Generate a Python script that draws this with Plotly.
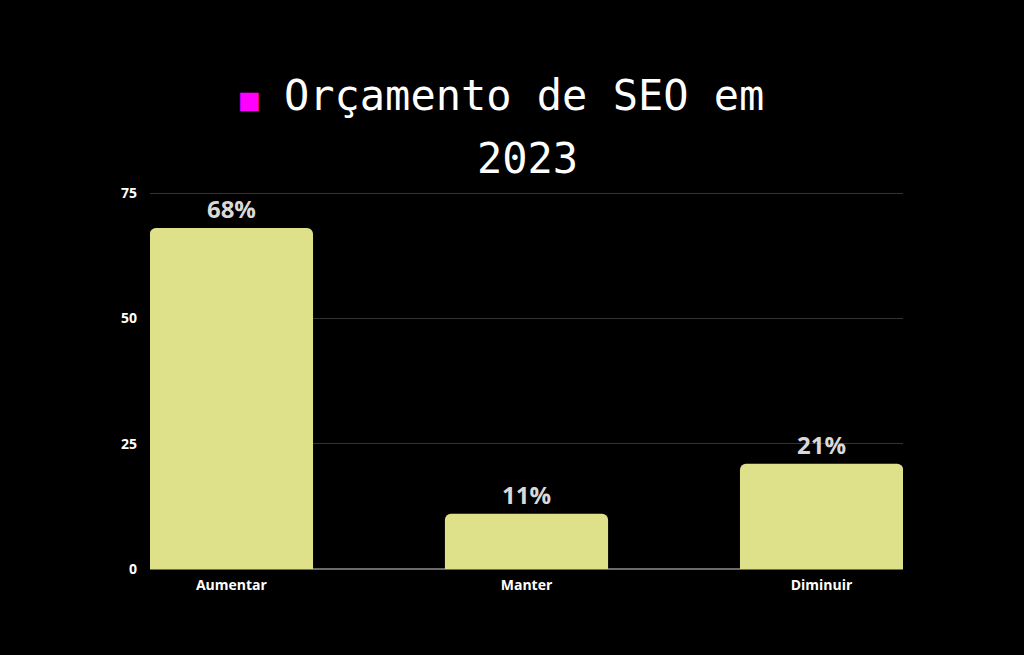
import plotly.graph_objects as go

categories = ["Aumentar", "Manter", "Diminuir"]
values = [68, 11, 21]
y_ticks = [0, 25, 50, 75]

bar_color = "#dee08a"

fig = go.Figure()
fig.add_trace(go.Bar(
    x=categories,
    y=values,
    width=0.553,
    marker=dict(color=bar_color, line=dict(width=0)),
    texttemplate="%{y}%",
    textposition="outside",
    textfont=dict(family="Open Sans", size=24, color="#d9d9d9", weight="bold"),
    cliponaxis=False,
    showlegend=False,
))

fig.update_layout(
    width=1024,
    height=655,
    paper_bgcolor="black",
    plot_bgcolor="black",
    margin=dict(l=150, r=121, t=188, b=86),
    barcornerradius=6,
    xaxis=dict(
        range=[-0.276, 2.276],
        showgrid=False,
        zeroline=False,
        showline=False,
        ticks="",
        ticklabelstandoff=6,
        tickfont=dict(family="Open Sans", size=14, color="white", weight="bold"),
    ),
    yaxis=dict(
        range=[0, 76],
        tickvals=y_ticks,
        showgrid=True,
        gridcolor="#333333",
        gridwidth=1,
        zeroline=True,
        zerolinecolor="#6a6a6a",
        zerolinewidth=1.5,
        ticks="",
        ticklabelstandoff=12,
        tickfont=dict(family="Open Sans", size=14, color="white", weight="bold"),
    ),
    annotations=[
        dict(
            text="<span style='color:#ff00ff;font-size:31px'>■</span> Orçamento de SEO em",
            xref="paper", yref="paper", x=0.4675, y=1.244,
            xanchor="center", yanchor="middle", showarrow=False,
            font=dict(family="DejaVu Sans Mono", size=42, color="white"),
        ),
        dict(
            text="2023",
            xref="paper", yref="paper", x=0.5007, y=1.078,
            xanchor="center", yanchor="middle", showarrow=False,
            font=dict(family="DejaVu Sans Mono", size=42, color="white"),
        ),
    ],
)

fig.write_html(
    "out.html",
    config={"displayModeBar": False},
    post_script="document.body.style.margin='0';document.body.style.background='black';",
)
